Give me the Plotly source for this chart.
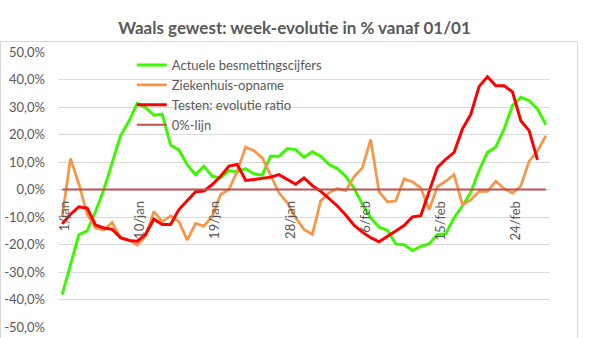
import plotly.graph_objects as go

# Category axis: one label per day from 1 January to 28 February
months = [("jan", 31), ("feb", 28)]
dates = [f"{d}/{m}" for m, n in months for d in range(1, n + 1)]
tick_labels = ["1/jan", "10/jan", "19/jan", "28/jan", "6/feb", "15/feb", "24/feb"]

# Week-on-week evolution in % (Walloon region)
besmettingen = [
    -38.2, -27.0, -16.5, -15.0, -8.0, 0.0, 10.0, 19.5, 24.8, 31.3,
    29.8, 27.0, 27.4, 16.2, 14.4, 9.0, 5.4, 8.5, 4.8, 4.2,
    6.9, 6.4, 7.6, 5.7, 5.2, 12.1, 12.1, 14.9, 14.5, 11.7,
    13.7, 12.1, 9.1, 7.6, 4.8, 0.5, -5.4, -10.3, -13.7, -14.8,
    -19.8, -20.1, -22.2, -20.7, -19.8, -16.4, -16.1, -10.3, -6.0, -1.0,
    7.0, 13.5, 15.5, 22.0, 30.5, 33.5, 32.3, 29.3, 23.6,
]
ziekenhuis = [
    -10.0, 11.3, 2.0, -9.0, -14.0, -14.7, -12.0, -17.7, -18.4, -20.2,
    -17.0, -8.0, -11.7, -9.6, -11.7, -18.4, -12.3, -13.3, -9.7, -1.8,
    0.0, 6.7, 15.4, 14.1, 11.5, 5.4, -1.2, -4.8, -10.3, -14.5,
    -16.3, -4.2, -1.2, 0.4, -0.4, 4.6, 7.9, 18.2, -0.8, -4.5,
    -4.2, 3.8, 2.8, 0.6, -7.4, 1.0, 3.0, 5.4, -5.5, -3.8,
    -0.7, -0.7, 3.0, 0.3, -1.3, 1.3, 10.3, 14.0, 19.5,
]
testen = [
    -12.5, -9.0, -6.3, -6.8, -12.9, -14.0, -14.5, -17.5, -18.5, -18.8,
    -16.3, -10.8, -12.7, -12.7, -7.3, -4.0, -0.8, -0.6, 1.8, 4.8,
    8.5, 9.1, 3.3, 3.6, 4.0, 4.5, 5.4, 3.6, 1.9, 4.2,
    1.4, -0.6, -3.3, -6.0, -9.3, -13.0, -15.5, -17.5, -19.0, -16.9,
    -15.1, -13.1, -10.0, -9.5, -1.0, 8.0, 11.0, 13.5, 22.0, 27.3,
    37.5, 41.0, 37.7, 37.7, 35.5, 25.0, 21.4, 10.8,
]
nul_lijn = [0.0] * len(dates)

y_ticks = [50, 40, 30, 20, 10, 0, -10, -20, -30, -40, -50]
y_tick_labels = ["50,0%", "40,0%", "30,0%", "20,0%", "10,0%", "0,0%",
                 "-10,0%", "-20,0%", "-30,0%", "-40,0%", "-50,0%"]

series = [
    ("Actuele besmettingscijfers", besmettingen, "#3CF800", 3),
    ("Ziekenhuis-opname", ziekenhuis, "#F79646", 2.75),
    ("Testen: evolutie ratio", testen, "#FF0000", 3),
    ("0%-lijn", nul_lijn, "#C0504D", 2),
]

fig = go.Figure()
for name, values, color, width in series:
    fig.add_trace(go.Scatter(
        x=dates[:len(values)], y=values, name=name, mode="lines",
        line=dict(color=color, width=width),
    ))

W, H = 589, 338
L, R, T, B = 58, 39, 52, 11
pw, ph = W - L - R, H - T - B

fig.update_layout(
    width=W, height=H,
    margin=dict(l=L, r=R, t=T, b=B, autoexpand=False),
    paper_bgcolor="white", plot_bgcolor="white",
    font=dict(family="Lato", color="#595959", size=13),
    title=dict(
        text="<b>Waals gewest: week-evolutie in % vanaf 01/01</b>",
        x=0.5, xref="container", xanchor="center",
        y=1 - 28 / H, yref="container", yanchor="middle",
        font=dict(size=17, color="#595959"),
    ),
    showlegend=True,
    legend=dict(
        x=0.15, y=1.007, xanchor="left", yanchor="top",
        bgcolor="rgba(0,0,0,0)", font=dict(size=13, color="#595959"),
        traceorder="normal",
    ),
    xaxis=dict(
        type="category", categoryorder="array", categoryarray=dates,
        range=[-0.5, len(dates) - 0.5],
        anchor="free", position=0.5, automargin=False,
        tickmode="array", tickvals=tick_labels, ticktext=tick_labels,
        tickangle=-90, ticks="", showgrid=False, showline=False,
        zeroline=False, ticklabelstandoff=8, ticklabelshift=3,
        tickfont=dict(size=13, color="#595959"),
    ),
    yaxis=dict(
        range=[-50, 50], tickvals=y_ticks, ticktext=y_tick_labels,
        showgrid=True, gridcolor="#D9D9D9", gridwidth=1, automargin=False,
        zeroline=False, showline=False, ticks="",
        ticklabelstandoff=12, tickfont=dict(size=13, color="#595959"),
    ),
    # light frame around the chart area
    shapes=[dict(
        type="rect", xref="paper", yref="paper", layer="below",
        x0=(0.5 - L) / pw, x1=(577.5 - L) / pw,
        y0=(H - T - (H + 5)) / ph, y1=(H - T - 0.5) / ph,
        line=dict(color="#D9D9D9", width=1), fillcolor="rgba(0,0,0,0)",
    )],
)

fig.write_html("out.html")
